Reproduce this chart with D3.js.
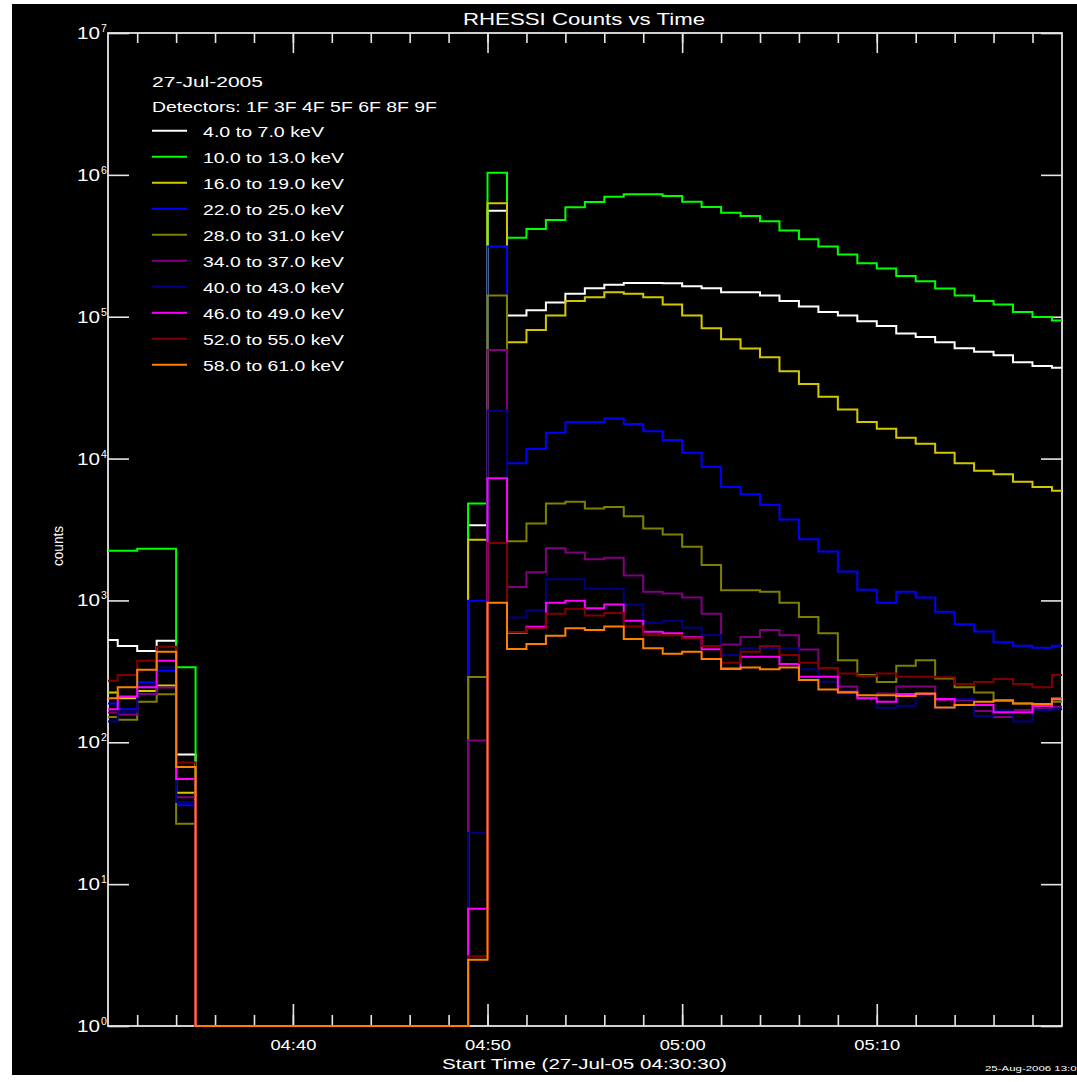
<!DOCTYPE html>
<html><head><meta charset="utf-8">
<script src="https://cdn.jsdelivr.net/npm/d3@7"></script>
<style>
body{margin:0;background:#fff}
svg{display:block}
text{font-family:"Liberation Sans",Arial,sans-serif;fill:#ffffff}
</style>
</head><body>
<svg id="c" width="1077" height="1082"></svg>
<script>
// ---------- text ----------
const title = "RHESSI Counts vs Time";
const dateLabel = "27-Jul-2005";
const detectorsLabel = "Detectors: 1F 3F 4F 5F 6F 8F 9F";
const xTitle = "Start Time (27-Jul-05 04:30:30)";
const yTitle = "counts";
const stamp = "25-Aug-2006 13:05";

// ---------- energy bands ----------
const bandLabels = ["4.0 to 7.0 keV","10.0 to 13.0 keV","16.0 to 19.0 keV","22.0 to 25.0 keV",
  "28.0 to 31.0 keV","34.0 to 37.0 keV","40.0 to 43.0 keV","46.0 to 49.0 keV",
  "52.0 to 55.0 keV","58.0 to 61.0 keV"];
const bandColors = ["#ffffff","#00ff00","#d2c800","#0000ff","#808000","#800080",
  "#000080","#ff00ff","#800000","#ff8000"];

// ---------- time axis ----------
const tStart = "2005-07-27T04:30:30Z";
const tEnd   = "2005-07-27T05:19:31Z";
const yTickExps = [0,1,2,3,4,5,6,7];

// ---------- counts per 1-minute bin (first bin 04:30:30-04:31, last 05:19-end) ----------
const c4_7 = [526,477,440,520,82, 0,0,0,0,0,0,0,0,0,0,0,0,0,0, 3390,559000,
  102000,111000,126000,145000,159000,168000,173000,173000,172000,
  164000,159000,149000,149000,141000,129000,118000,108000,102000,93000,
  86000,76000,72000,66000,60000,56700,53400,47700,44900,43700];
const c10_13 = [2240,2240,2316,2316,338, 0,0,0,0,0,0,0,0,0,0,0,0,0,0, 4830,1035000,
  360000,415000,480000,590000,643000,700000,730000,730000,710000,
  647000,593000,541000,513000,470000,406000,351000,312000,275000,238000,
  219000,194000,178000,158000,141000,129000,122000,108000,99500,94000];
const c16_19 = [224,204,230,251,44, 0,0,0,0,0,0,0,0,0,0,0,0,0,0, 2680,630000,
  66000,80600,102000,129000,137000,149000,145000,137000,122000,
  102000,82800,69300,59800,51800,41200,33500,27300,22200,18100,
  16200,14000,12700,11000,9250,8200,7750,6870,6300,5940];
const c22_25 = [188,171,265,320,36, 0,0,0,0,0,0,0,0,0,0,0,0,0,0, 995,312000,
  9250,11700,15200,18100,18100,19200,17500,15600,13500,
  11000,8720,6300,5600,4710,3720,2700,2210,1600,1190,
  964,1150,1050,833,679,603,507,480,464,480];
const c28_31 = [151,144,193,218,26.6, 0,0,0,0,0,0,0,0,0,0,0,0,0,0, 289,141000,
  2610,3490,4830,4970,4440,4560,3920,3210,2920,
  2390,1780,1180,1180,1150,964,764,586,378,298,
  266,347,378,282,244,224,199,188,183,193];
const c34_37 = [162,157,219,243,41, 0,0,0,0,0,0,0,0,0,0,0,0,0,0, 103,58200,
  1245,1580,2330,2180,1950,2000,1500,1150,1120,
  1050,806,490,552,619,568,450,332,247,204,
  221,247,247,199,199,166,151,169,171,178];
const c40_43 = [140,164,250,336,38, 0,0,0,0,0,0,0,0,0,0,0,0,0,0, 23,21700,
  757,851,1410,1410,1210,1210,936,695,719,
  642,571,412,460,460,460,327,267,221,202,
  175,181,215,174,202,153,169,140,169,171];
const c46_49 = [171,210,244,376,55, 0,0,0,0,0,0,0,0,0,0,0,0,0,0, 6.7,7260,
  589,651,962,995,880,936,719,602,586,
  550,453,332,401,401,356,290,290,227,204,
  193,219,219,202,183,183,163,163,180,204];
const c52_55 = [272,298,376,472,72, 0,0,0,0,0,0,0,0,0,0,0,0,0,0, 3.1,2535,
  600,636,805,875,783,814,654,569,568,
  541,477,364,435,477,412,364,332,306,293,
  306,290,290,287,258,266,279,258,244,298];
const c58_61 = [204,244,325,435,67, 0,0,0,0,0,0,0,0,0,0,0,0,0,0, 2.93,962,
  454,493,564,636,618,654,535,460,420,
  435,386,329,336,327,336,275,236,224,215,
  215,212,221,176,183,193,196,188,186,201];
const seriesValues = [c4_7,c10_13,c16_19,c22_25,c28_31,c34_37,c40_43,c46_49,c52_55,c58_61];

// ---------- layout ----------
const L = 108, R = 1062, T = 33, B = 1026;
const svg = d3.select("#c");

svg.append("rect").attr("x",12).attr("y",4).attr("width",1065).attr("height",1071).attr("fill","#000");

const t0 = new Date(tStart), t1 = new Date(tEnd);
const x = d3.scaleUtc().domain([t0, t1]).range([L, R]);
const y = d3.scaleLog().domain([1, 1e7]).range([B, T]).clamp(true);

// bin edges: 04:30:30, then each whole minute up to 05:19, then plot end
const edges = [t0].concat(d3.utcMinute.range(d3.utcMinute.ceil(t0), t1)).concat([t1]);

const axisColor = "#e6e6e6";

function styleAxis(g){
  g.select(".domain").remove();
  g.selectAll("line").attr("stroke", axisColor).attr("stroke-width",1.6);
}
// minor & major x ticks, bottom and top
svg.append("g").attr("transform",`translate(0,${B})`)
  .call(d3.axisBottom(x).ticks(d3.utcMinute.every(2)).tickSize(-11).tickFormat(""))
  .call(styleAxis);
const xMajB = svg.append("g").attr("transform",`translate(0,${B})`)
  .call(d3.axisBottom(x).ticks(d3.utcMinute.every(10)).tickSize(-22).tickFormat(d3.utcFormat("%H:%M")))
  .call(styleAxis);
xMajB.selectAll("text").attr("fill","#fff").attr("stroke","none")
  .attr("font-family",'"Liberation Sans",Arial,sans-serif')
  .attr("font-size",15.5).attr("y",24).attr("dy",0)
  .attr("textLength",46).attr("lengthAdjust","spacingAndGlyphs");
svg.append("g").attr("transform",`translate(0,${T})`)
  .call(d3.axisTop(x).ticks(d3.utcMinute.every(2)).tickSize(-10).tickFormat(""))
  .call(styleAxis);
svg.append("g").attr("transform",`translate(0,${T})`)
  .call(d3.axisTop(x).ticks(d3.utcMinute.every(10)).tickSize(-20).tickFormat(""))
  .call(styleAxis);
// y ticks left & right
const yTickVals = yTickExps.map(e => Math.pow(10, e));
svg.append("g").attr("transform",`translate(${L},0)`)
  .call(d3.axisLeft(y).tickValues(yTickVals).tickSize(-21).tickFormat(""))
  .call(styleAxis);
svg.append("g").attr("transform",`translate(${R},0)`)
  .call(d3.axisRight(y).tickValues(yTickVals).tickSize(-21).tickFormat(""))
  .call(styleAxis);
// frame
svg.append("rect").attr("x",L).attr("y",T).attr("width",R-L).attr("height",B-T)
  .attr("fill","none").attr("stroke",axisColor).attr("stroke-width",1.8);

// y tick labels: 10^n
yTickExps.forEach(e => {
  const yy = y(Math.pow(10,e));
  svg.append("text").attr("x",100).attr("y",yy+6).attr("text-anchor","end")
    .attr("font-size",16).attr("textLength",23).attr("lengthAdjust","spacingAndGlyphs").text("10");
  svg.append("text").attr("x",101).attr("y",yy-1).attr("font-size",10.5).text(String(e));
});

// titles
svg.append("text").attr("x",463).attr("y",25).attr("font-size",17)
  .attr("textLength",242).attr("lengthAdjust","spacingAndGlyphs").text(title);
svg.append("text").attr("x",442).attr("y",1069).attr("font-size",15.5)
  .attr("textLength",285).attr("lengthAdjust","spacingAndGlyphs").text(xTitle);
svg.append("text").attr("transform","translate(63,546) rotate(-90)").attr("text-anchor","middle")
  .attr("font-size",15).attr("textLength",40).attr("lengthAdjust","spacingAndGlyphs").text(yTitle);
svg.append("text").attr("x",985).attr("y",1071).attr("font-size",8)
  .attr("textLength",98).attr("lengthAdjust","spacingAndGlyphs").text(stamp);

// data (stepped histograms)
const plot = svg.append("g");
seriesValues.forEach((vals, i) => {
  const pts = vals.map((v, k) => [edges[k], v]);
  pts.push([edges[edges.length-1], vals[vals.length-1]]);
  const line = d3.line().x(d => x(d[0])).y(d => y(d[1])).curve(d3.curveStepAfter);
  plot.append("path").attr("d", line(pts)).attr("fill","none")
    .attr("stroke", bandColors[i]).attr("stroke-width",2);
});

// legend
svg.append("text").attr("x",152).attr("y",87).attr("font-size",15)
  .attr("textLength",111).attr("lengthAdjust","spacingAndGlyphs").text(dateLabel);
svg.append("text").attr("x",152).attr("y",112).attr("font-size",15)
  .attr("textLength",285).attr("lengthAdjust","spacingAndGlyphs").text(detectorsLabel);
bandLabels.forEach((lab, i) => {
  const ly = 130.7 + 26.0 * i;
  svg.append("line").attr("x1",152).attr("x2",187).attr("y1",ly).attr("y2",ly)
    .attr("stroke",bandColors[i]).attr("stroke-width",2);
  svg.append("text").attr("x",203).attr("y",ly+6.5).attr("font-size",15)
    .attr("textLength", i === 0 ? 121 : 141).attr("lengthAdjust","spacingAndGlyphs").text(lab);
});
</script>
</body></html>
